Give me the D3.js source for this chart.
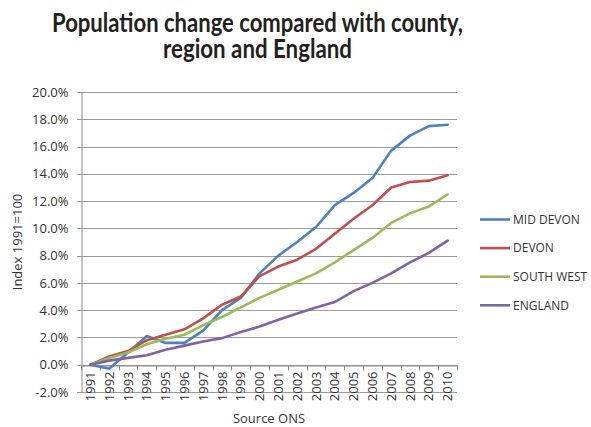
<!DOCTYPE html>
<html>
<head>
<meta charset="utf-8">
<script src="https://cdn.jsdelivr.net/npm/d3@7"></script>
<style>
  html, body { margin: 0; padding: 0; background: #ffffff; }
  svg { display: block; }
</style>
</head>
<body>
<svg id="chart" width="591" height="427"></svg>
<script>
// Years on the category axis
const years = ["1991","1992","1993","1994","1995","1996","1997","1998","1999","2000",
               "2001","2002","2003","2004","2005","2006","2007","2008","2009","2010"];

// Population change since 1991, in percent
const midDevon  = [0, -0.3, 0.9, 2.1, 1.6, 1.6, 2.5, 4.0, 4.9, 6.7, 8.0, 9.0, 10.1, 11.7, 12.6, 13.7, 15.7, 16.8, 17.5, 17.6];
const devon     = [0, 0.6, 1.0, 1.8, 2.2, 2.6, 3.4, 4.4, 5.0, 6.5, 7.2, 7.7, 8.5, 9.6, 10.7, 11.7, 13.0, 13.4, 13.5, 13.9];
const southWest = [0, 0.5, 0.9, 1.5, 1.9, 2.2, 2.9, 3.5, 4.2, 4.9, 5.5, 6.1, 6.7, 7.5, 8.4, 9.3, 10.4, 11.1, 11.6, 12.5];
const england   = [0, 0.3, 0.5, 0.7, 1.1, 1.4, 1.7, 1.95, 2.4, 2.8, 3.3, 3.75, 4.2, 4.6, 5.4, 6.0, 6.7, 7.5, 8.2, 9.1];

const seriesNames = ["MID DEVON", "DEVON", "SOUTH WEST", "ENGLAND"];
const seriesColors = ["#4F81BD", "#C0504D", "#9BBB59", "#8064A2"];
const seriesValues = [midDevon, devon, southWest, england];

const yTicks = [-2, 0, 2, 4, 6, 8, 10, 12, 14, 16, 18, 20];

const titleLines = ["Population change compared with county,", "region and England"];

const svg = d3.select("#chart");
const font = "'Open Sans', 'Noto Sans', sans-serif";

// Plot frame
const plotLeft = 81, plotRight = 457, plotTop = 92, plotBottom = 392;

const x = d3.scaleBand().domain(years).range([plotLeft, plotRight]).padding(0);
const y = d3.scaleLinear().domain([-2, 20]).range([plotBottom, plotTop]);

// Title
const titleWidths = [411, 189];
titleLines.forEach((t, i) => {
  svg.append("text")
    .attr("x", 257.5)
    .attr("y", 31.5 + i * 26.8)
    .attr("text-anchor", "middle")
    .attr("font-family", "Lato, 'Open Sans', sans-serif")
    .attr("font-weight", 700)
    .attr("font-size", 26)
    .attr("fill", "#231f20")
    .attr("textLength", titleWidths[i])
    .attr("lengthAdjust", "spacingAndGlyphs")
    .text(t);
});

// Horizontal gridlines
svg.append("g")
  .selectAll("line")
  .data(yTicks)
  .join("line")
  .attr("x1", plotLeft - 4)
  .attr("x2", plotRight)
  .attr("y1", d => Math.round(y(d)) + 0.5)
  .attr("y2", d => Math.round(y(d)) + 0.5)
  .attr("stroke", "#9a9a9a")
  .attr("stroke-width", 1);

// Value axis
const yAxis = d3.axisLeft(y)
  .tickValues(yTicks)
  .tickSize(0)
  .tickPadding(13)
  .tickFormat(d => d.toFixed(1) + "%");
const gy = svg.append("g")
  .attr("transform", `translate(${plotLeft + 0.5},0)`)
  .call(yAxis);
gy.select(".domain").attr("stroke", "#8a8a8a");
gy.selectAll("text")
  .attr("font-family", font)
  .attr("font-size", 13)
  .attr("fill", "#333333");

// Category axis at zero
const xAxis = d3.axisBottom(x).tickSize(0).tickFormat(d => d);
const gx = svg.append("g")
  .attr("transform", `translate(0,${Math.round(y(0)) + 0.5})`)
  .call(xAxis);
gx.select(".domain").attr("stroke", "#8a8a8a");
gx.selectAll(".tick text")
  .attr("font-family", font)
  .attr("font-size", 13)
  .attr("fill", "#333333")
  .attr("text-anchor", "end")
  .attr("dy", "0.35em")
  .attr("transform", "translate(0,6) rotate(-90)")
  .attr("x", 0)
  .attr("y", 0);

// Tick marks between categories
const boundaries = years.map(d => x(d)).concat([x(years[years.length - 1]) + x.bandwidth()]);
gx.append("g")
  .selectAll("line")
  .data(boundaries)
  .join("line")
  .attr("x1", d => Math.round(d) + 0.5)
  .attr("x2", d => Math.round(d) + 0.5)
  .attr("y1", 0)
  .attr("y2", 5)
  .attr("stroke", "#8a8a8a");

// Series lines
const line = d3.line()
  .x((d, i) => x(years[i]) + x.bandwidth() / 2)
  .y(d => y(d));

svg.append("g")
  .selectAll("path")
  .data(seriesValues)
  .join("path")
  .attr("d", d => line(d))
  .attr("fill", "none")
  .attr("stroke", (d, i) => seriesColors[i])
  .attr("stroke-width", 2.6)
  .attr("stroke-linejoin", "round")
  .attr("stroke-linecap", "round");

// Legend
const legend = svg.append("g");
seriesNames.forEach((name, i) => {
  const ly = 219.5 + i * 28.6;
  legend.append("line")
    .attr("x1", 480).attr("x2", 510)
    .attr("y1", ly).attr("y2", ly)
    .attr("stroke", seriesColors[i])
    .attr("stroke-width", 2.6);
  legend.append("text")
    .attr("x", 513)
    .attr("y", ly)
    .attr("dy", "0.35em")
    .attr("font-family", font)
    .attr("font-size", 12)
    .attr("fill", "#333333")
    .text(name);
});

// Axis titles
svg.append("text")
  .attr("transform", `translate(22,242) rotate(-90)`)
  .attr("text-anchor", "middle")
  .attr("font-family", font)
  .attr("font-size", 13)
  .attr("fill", "#333333")
  .text("Index 1991=100");

svg.append("text")
  .attr("x", (plotLeft + plotRight) / 2)
  .attr("y", 423)
  .attr("text-anchor", "middle")
  .attr("font-family", font)
  .attr("font-size", 13)
  .attr("fill", "#333333")
  .text("Source ONS");
</script>
</body>
</html>
